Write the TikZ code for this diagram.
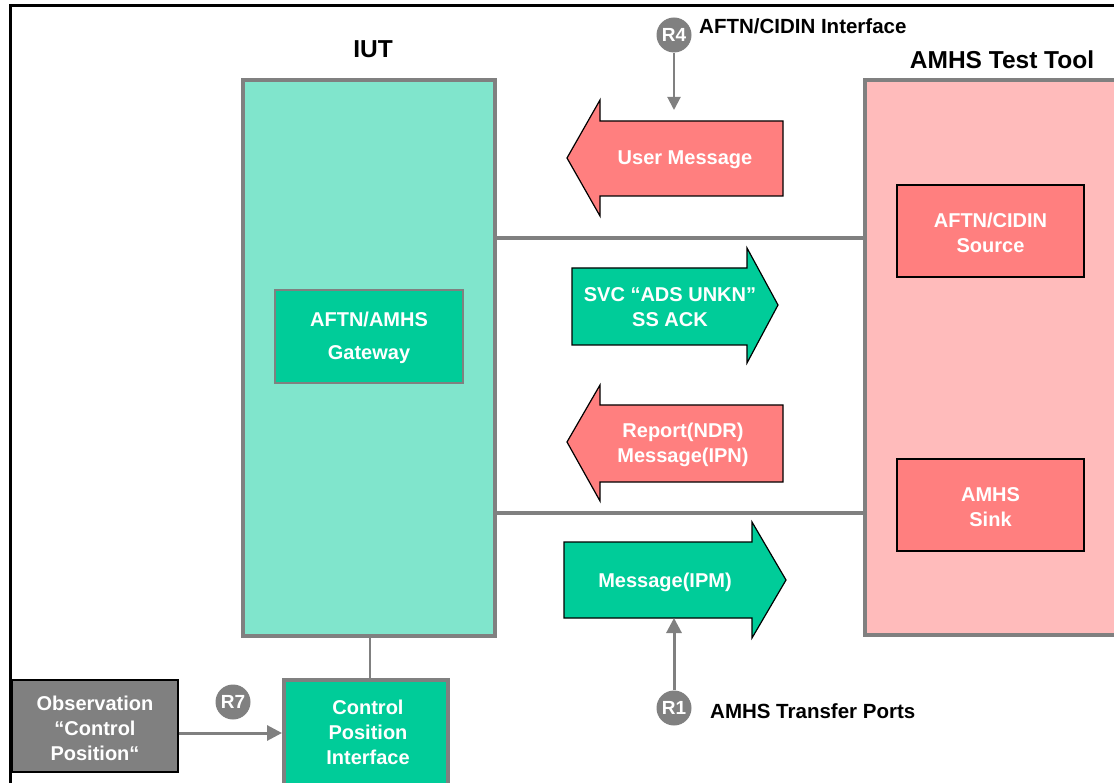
\documentclass[tikz,border=0pt]{standalone}
\usepackage{fontspec}
\setmainfont{Liberation Sans}
\usetikzlibrary{arrows.meta}

\definecolor{iutfill}{HTML}{80E5CC}
\definecolor{teal}{HTML}{00CC99}
\definecolor{toolfill}{HTML}{FFBBBB}
\definecolor{redfill}{HTML}{FF7F7F}
\definecolor{greyline}{HTML}{808080}

\tikzset{
  bigbox/.style={draw=greyline, line width=4pt, inner sep=0pt},
  subbox/.style={draw=black, line width=1.2pt, inner sep=0pt},
  wtext/.style={text=white, font=\fontsize{20}{25}\selectfont\bfseries, align=center, inner sep=0pt},
  btext/.style={text=black, font=\fontsize{20.5}{25}\selectfont\bfseries, inner sep=0pt},
  title/.style={text=black, font=\fontsize{24.5}{29}\selectfont\bfseries, inner sep=0pt},
  refmark/.style={circle, fill=greyline, minimum size=35pt, inner sep=0pt,
    text=white, font=\fontsize{19}{22}\selectfont\bfseries},
  blockarrow/.style={draw=black, line width=1.2pt, line join=miter},
  link/.style={draw=greyline, line width=3.5pt},
  feed/.style={draw=greyline, line width=3pt, -{Triangle[length=15pt,width=15pt]}},
}

\begin{document}
\begin{tikzpicture}[x=1pt,y=-1pt]
\useasboundingbox (0,0) rectangle (1114,783);
\clip (0,0) rectangle (1114,783);

% outer frame
\draw[line width=3pt] (10,800) -- (10,6) -- (1130,6);

% implementation under test
\node[title] (iuttitle) at (373,49) {IUT};
\node[bigbox, fill=iutfill, minimum width=252pt, minimum height=556pt] (iut) at (369,358) {};
\node[draw=greyline, line width=1.5pt, fill=teal, minimum width=188pt, minimum height=93pt, inner sep=0pt] (gw) at (369,336.5) {};
\node[wtext, font=\fontsize{20}{33}\selectfont\bfseries] (gwtext) at (369,338) {AFTN/AMHS\\Gateway};

% test tool
\node[title] (tooltitle) at (1002,60) {AMHS Test Tool};
\node[bigbox, fill=toolfill, minimum width=265pt, minimum height=555pt] (tool) at (997.5,357.5) {};
\node[subbox, fill=redfill, minimum width=187pt, minimum height=92pt] (src) at (990.5,231) {};
\node[wtext] (srctext) at (990.5,233) {AFTN/CIDIN\\Source};
\node[subbox, fill=redfill, minimum width=187pt, minimum height=92pt] (sink) at (990.5,505) {};
\node[wtext] (sinktext) at (990.5,507) {AMHS\\Sink};

% links between IUT and test tool
\coordinate (ya) at (0,238);
\coordinate (yb) at (0,513);
\draw[link] (iut.east |- ya) -- (tool.west |- ya);
\draw[link] (iut.east |- yb) -- (tool.west |- yb);

% message flows
\draw[blockarrow, fill=redfill] (783,121) -- (600,121) -- (600,100) -- (567,158)
  -- (600,216) -- (600,196) -- (783,196) -- cycle;
\node[wtext] (umsg) at (685,160) {User Message};

\draw[blockarrow, fill=teal] (572,268) -- (747,268) -- (747,248) -- (778,305)
  -- (747,363) -- (747,345) -- (572,345) -- cycle;
\node[wtext] (svc) at (670,307.5) {SVC “ADS UNKN”\\SS ACK};

\draw[blockarrow, fill=redfill] (783,405) -- (600,405) -- (600,385) -- (567,442)
  -- (600,501) -- (600,482) -- (783,482) -- cycle;
\node[wtext] (ndr) at (683,445) {Report(NDR)\\Message(IPN)};

\draw[blockarrow, fill=teal] (564,542) -- (752,542) -- (752,522) -- (786,580)
  -- (752,638) -- (752,618) -- (564,618) -- cycle;
\node[wtext] (ipm) at (665,582) {Message(IPM)};

% reference points
\node[refmark] (r4) at (674,35) {R4};
\node[btext, anchor=west] (r4text) at (699,26) {AFTN/CIDIN Interface};
\coordinate (r4end) at (674,110);
\draw[feed, line width=2pt, -{Triangle[length=13pt,width=13pt]}] (r4) -- (r4end);

\node[refmark] (r1) at (674,708) {R1};
\node[btext, anchor=west] (r1text) at (710,711) {AMHS Transfer Ports};
\coordinate (r1end) at (674,618);
\draw[feed] (r1) -- (r1end);

% control position
\node[subbox, fill=greyline, minimum width=166pt, minimum height=92pt] (obs) at (95,726) {};
\node[wtext] (obstext) at (95,728) {Observation\\“Control\\Position“};
\node[bigbox, fill=teal, minimum width=164pt, minimum height=110pt] (ctrl) at (366,735) {};
\node[wtext] (ctrltext) at (368,732) {Control\\Position\\Interface};
\coordinate (xc) at (370,0);
\draw[draw=greyline, line width=2pt] (iut.south -| xc) -- (ctrl.north -| xc);

\node[refmark] (r7) at (233,702) {R7};
\coordinate (y7) at (0,733);
\draw[feed] (obs.east |- y7) -- (ctrl.west |- y7);
\end{tikzpicture}
\end{document}
